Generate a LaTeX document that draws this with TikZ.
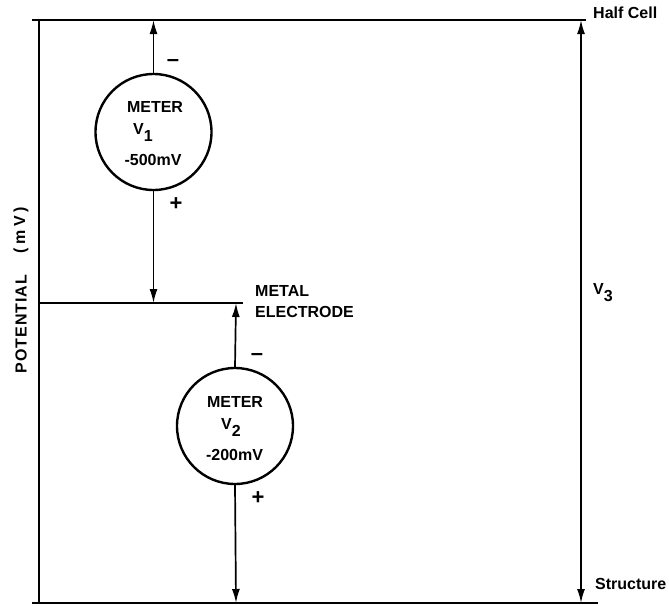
\documentclass[tikz,border=0pt]{standalone}
\usepackage{fontspec}
\setmainfont{Liberation Sans}
\usetikzlibrary{arrows.meta}
\begin{document}
\begin{tikzpicture}[x=1pt,y=-1pt,
  wire/.style={line width=2pt},
  tip/.style={},
  arr/.style={line width=1.7pt,-{Latex[length=14pt,width=8pt]}},
  meter/.style={circle,draw,line width=2.4pt,minimum size=116pt,inner sep=0pt},
  lbl/.style={font=\bfseries\fontsize{16}{16}\selectfont,inner sep=0pt},
  sign/.style={font=\bfseries\fontsize{22}{22}\selectfont,inner sep=0pt}]
\useasboundingbox (0,0) rectangle (669,605);
% frame lines
\coordinate (tl) at (32,20);
\coordinate (tr) at (586,20);
\coordinate (bl) at (32,603);
\coordinate (br) at (598,603);
\coordinate (lt) at (39,20);
\coordinate (lb) at (39,603);
\coordinate (ml) at (39,303);
\coordinate (mr) at (243,303);
\draw[wire] (tl) -- (tr);
\draw[wire] (bl) -- (br);
\draw[wire] (lt) -- (lb);
\draw[wire] (ml) -- (mr);
% meters
\node[meter] (m1) at (153.5,132) {};
\node[meter] (m2) at (235,426) {};
\node[lbl] (m1a) at (155,107) {METER};
\node[lbl] (m1b) at (143,132) {V\raisebox{-7pt}{1}};
\node[lbl] (m1c) at (153,160) {-500mV};
\node[lbl] (m2a) at (235,402) {METER};
\node[lbl] (m2b) at (231,427) {V\raisebox{-7pt}{2}};
\node[lbl] (m2c) at (234.5,455) {-200mV};
% connectors
\coordinate (a1) at (153.5,20);
\coordinate (a2) at (153.5,303);
\coordinate (a3) at (236,303);
\coordinate (a4) at (236,603);
\draw[arr] (m1.north) -- (a1);
\draw[arr] (m1.south) -- (a2);
\draw[arr] (m2.north) -- (a3);
\draw[arr] (m2.south) -- (a4);
% signs
\node[sign] (s1) at (173,63) {–};
\node[sign] (s2) at (176,204) {+};
\node[sign] (s3) at (257,357) {–};
\node[sign] (s4) at (258,498) {+};
% V3 arrow
\coordinate (v3t) at (581,20);
\coordinate (v3b) at (581,603);
\draw[line width=1.7pt,{Latex[length=14pt,width=8pt]}-{Latex[length=14pt,width=8pt]}] (v3b) -- (v3t);
\node[lbl] (v3) at (603,293) {V\raisebox{-7pt}{3}};
% labels
\node[lbl,anchor=west] (hc) at (593,13) {Half Cell};
\node[lbl,anchor=west] (st) at (595,584) {Structure};
\node[lbl,anchor=west] (me1) at (255,291) {METAL};
\node[lbl,anchor=west] (me2) at (255,312) {ELECTRODE};
\node[lbl,rotate=90,font=\bfseries\fontsize{16}{16}\selectfont\addfontfeature{LetterSpace=6}] (pot) at (21,324) {POTENTIAL};
\node[lbl,rotate=90,font=\bfseries\fontsize{16}{16}\selectfont\addfontfeature{LetterSpace=22}] (mv) at (21,230) {(mV)};
\end{tikzpicture}
\end{document}
